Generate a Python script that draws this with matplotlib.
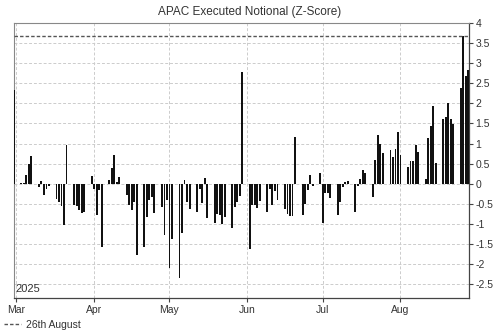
import numpy as np
import pandas as pd
import matplotlib
matplotlib.use("Agg")
import matplotlib.pyplot as plt
import matplotlib.dates as mdates
from matplotlib.lines import Line2D

plt.rcParams['font.family'] = ['Liberation Sans', 'DejaVu Sans']

# business days from 28 Feb to 28 Aug 2025
dates = pd.bdate_range('2025-02-28', '2025-08-28')

zscore = [
    2.33,
    # Mar
    0.02, 0.03, 0.22, 0.50, 0.70,
    -0.08, 0.08, -0.28, -0.12, -0.05,
    -0.38, -0.45, -0.55, -1.03, 0.97,
    -0.52, -0.55, -0.65, -0.72, -0.70,
    0.18, -0.12, -0.78, -0.15, -1.58,
    # Apr
    0.10, 0.38, 0.71, 0.05, 0.17,
    -0.28, -0.53, -0.65, -0.45, -1.77,
    -1.58, -0.82, -0.40, -0.32, -0.74,
    -0.57, -1.27, -0.40, -2.10, -1.37,
    # May
    -2.35, -1.23, 0.09, -0.45, -0.62,
    -0.70, -0.12, -0.49, 0.15, -0.86,
    -0.98, -0.75, -0.78, -1.00, -0.82,
    -1.11, -0.57, -0.45, -0.30, 2.78,
    # Jun
    -1.62, -0.53, -0.53, -0.61, -0.42,
    -0.70, -0.14, -0.53, -0.18, -0.40,
    -0.64, -0.76, -0.80, -0.80, 1.17,
    -0.78, -0.50, -0.15, 0.22, -0.05,
    # Jul
    0.27, -0.98, -0.24, -0.24, -0.35,
    -0.78, -0.45, -0.08, 0.04, 0.07,
    -0.70, -0.05, 0.13, 0.34, 0.26,
    -0.32, 0.59, 1.21, 1.00, 0.77,
    0.84, 0.67, 0.86, 1.29, 0.71,
    # Aug
    0.42, 0.57, 0.57, 0.96, 0.80,
    0.13, 1.13, 1.43, 1.93, 0.51,
    1.60, 1.67, 2.00, 1.62, 1.48,
    2.37, 3.67, 2.68, 2.84,
]

marker_label = '26th August'
marker_value = 3.67
yticks = np.arange(-2.5, 4.01, 0.5)
ytick_labels = ['%g' % t for t in yticks]

fig = plt.figure(figsize=(5, 3.36), dpi=100)
ax = fig.add_axes([0.027, 0.112, 0.910, 0.820])

ax.bar(dates, zscore, width=0.75, color='#111111', linewidth=0, zorder=3)
ax.axhline(marker_value, color='#555555', ls=(0, (2.5, 1.5)), lw=1, zorder=4)

ax.set_ylim(-2.85, 4)
ax.set_xlim(pd.Timestamp('2025-02-27 21:00'), pd.Timestamp('2025-08-28 02:00'))

ax.yaxis.tick_right()
ax.set_yticks(yticks)
ax.set_yticklabels(ytick_labels)
ax.xaxis.set_major_locator(mdates.MonthLocator())
ax.xaxis.set_major_formatter(mdates.DateFormatter('%b'))

ax.tick_params(axis='both', labelsize=7.5, colors='#444444', length=3, width=0.8,
               labelcolor='#333333', pad=2)
ax.grid(True, color='#cccccc', ls=(0, (3, 2)), lw=0.7, zorder=0)

for side in ['left', 'top']:
    ax.spines[side].set_color('#888888')
    ax.spines[side].set_linewidth(0.8)
for side in ['right', 'bottom']:
    ax.spines[side].set_color('#444444')
    ax.spines[side].set_linewidth(0.9)

ax.text(0.005, 0.015, '2025', transform=ax.transAxes, fontsize=8,
        color='#333333', ha='left', va='bottom')

fig.text(0.5, 0.965, 'APAC Executed Notional (Z-Score)', ha='center',
         va='center', fontsize=8.5, color='#333333')

handle = Line2D([], [], color='#555555', ls=(0, (2.5, 1.5)), lw=1)
fig.legend([handle], [marker_label], loc='lower left', bbox_to_anchor=(-0.01, -0.01),
           frameon=False, fontsize=7.5, handlelength=1.6, handletextpad=0.5,
           labelcolor='#333333')

fig.savefig('out.png', dpi=100)
